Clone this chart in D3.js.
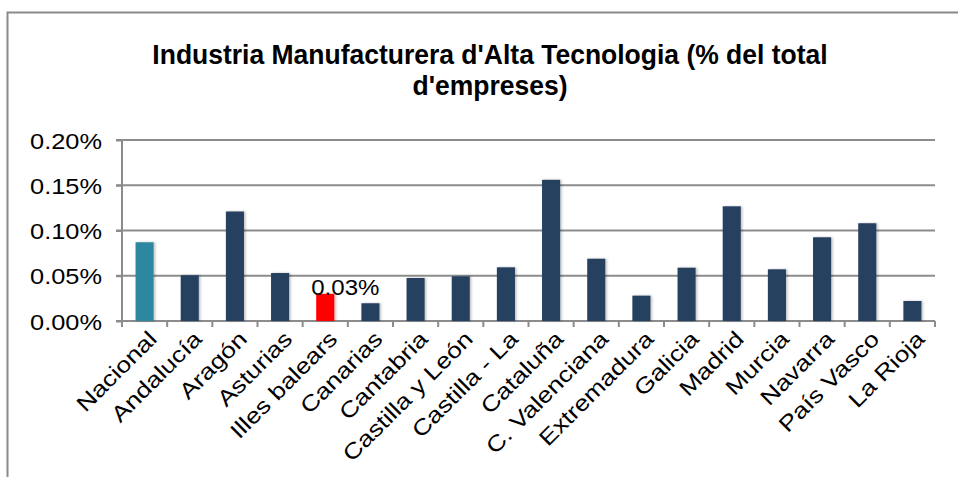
<!DOCTYPE html>
<html><head><meta charset="utf-8">
<script src="https://cdn.jsdelivr.net/npm/d3@7"></script>
<style>body{margin:0;background:#fff}svg{display:block}</style>
</head><body>
<script>
const categories = ["Nacional","Andalucía","Aragón","Asturias","Illes balears","Canarias","Cantabria","Castilla y León","Castilla - La","Cataluña","C. Valenciana","Extremadura","Galicia","Madrid","Murcia","Navarra","País Vasco","La Rioja"];
const values = [0.087,0.0505,0.121,0.053,0.030,0.0196,0.0475,0.0494,0.0593,0.156,0.0688,0.028,0.0589,0.1267,0.0571,0.0925,0.108,0.0221];
const yTicks = [0,0.05,0.10,0.15,0.20];
const titleLines = ["Industria Manufacturera d'Alta Tecnologia (% del total","d'empreses)"];
const highlight = {"Nacional":"#2e87a1","Illes balears":"#ff0000"};
const labelled = ["Illes balears"];

const W=958,H=477;
const svg=d3.select("body").append("svg").attr("width",W).attr("height",H);
const defs=svg.append("defs");
const f=defs.append("filter").attr("id","sh").attr("x","-20%").attr("y","-10%").attr("width","160%").attr("height","130%");
f.append("feDropShadow").attr("dx",1.5).attr("dy",0).attr("stdDeviation",1.2).attr("flood-color","#000").attr("flood-opacity",0.25);
const FONT="Liberation Sans, Arial, sans-serif";

// frame
svg.append("path").attr("d","M7.5,480 V12.5 H960").attr("fill","none").attr("stroke","#8a8a8a").attr("stroke-width",2);

// title
const title=svg.append("text").attr("text-anchor","middle")
  .attr("font-family",FONT).attr("font-weight","bold").attr("font-size",26.5).attr("fill","#000")
  .attr("transform","translate(490,0) scale(1.0,1.04)");
titleLines.forEach((t,i)=>title.append("tspan").attr("x",0).attr("y",(64+i*31)/1.04).text(t));

const x=d3.scaleBand().domain(categories).range([122,935]).paddingInner(0.6).paddingOuter(0.3);
const y=d3.scaleLinear().domain([0,0.2]).range([321,140]);
const step=x.step();

// gridlines
svg.append("g").selectAll("line").data(yTicks.slice(1)).join("line")
  .attr("x1",116).attr("x2",935).attr("y1",d=>y(d)).attr("y2",d=>y(d))
  .attr("stroke","#8c8c8c").attr("stroke-width",2);

// y axis
const yAxis=d3.axisLeft(y).tickValues(yTicks).tickSize(6).tickFormat(d=>d3.format(".2f")(d)+"%");
const ga=svg.append("g").attr("transform","translate(122,0)").call(yAxis);
ga.select(".domain").attr("stroke","#8c8c8c").attr("stroke-width",2).attr("d","M0,"+y(0.2)+"V"+y(0));
ga.selectAll(".tick line").attr("stroke","#8c8c8c").attr("stroke-width",2);
ga.selectAll(".tick text").attr("x",0).attr("dy",null).attr("text-anchor","end")
  .attr("font-family",FONT).attr("font-size",21.5).attr("fill","#000")
  .attr("transform","translate(-20,8) scale(1.18,1)");

// x axis line + ticks at band boundaries
const bounds=categories.map(c=>x(c)-0.3*step).concat([935]);
svg.append("line").attr("x1",116).attr("x2",935).attr("y1",y(0)).attr("y2",y(0)).attr("stroke","#8c8c8c").attr("stroke-width",2);
svg.append("g").selectAll("line").data(bounds).join("line")
  .attr("x1",d=>d).attr("x2",d=>d).attr("y1",y(0)).attr("y2",y(0)+6).attr("stroke","#8c8c8c").attr("stroke-width",2);

// bars
svg.append("g").selectAll("rect").data(categories).join("rect")
  .attr("x",c=>x(c)).attr("width",x.bandwidth())
  .attr("y",(c,i)=>y(values[i])).attr("height",(c,i)=>y(0)-y(values[i]))
  .attr("fill",c=>highlight[c]||"#253f60").attr("filter","url(#sh)");

// data label
labelled.forEach(c=>{
  const i=categories.indexOf(c);
  svg.append("text").attr("x",0).attr("y",0)
    .attr("transform",`translate(${x(c)-5},${y(values[i])+1}) scale(1.12,1)`)
    .attr("font-family",FONT).attr("font-size",21.5).attr("fill","#000")
    .text(d3.format(".2f")(values[i]*100/100)+"%");
});

// x labels
svg.append("g").selectAll("text").data(categories).join("text")
  .attr("transform",c=>`translate(${x(c)+x.bandwidth()/2+8},${y(0)+14}) rotate(-45) scale(1.2,1)`)
  .attr("text-anchor","end").attr("dy","0.35em")
  .attr("font-family",FONT).attr("font-size",22).attr("fill","#000")
  .text(c=>c);
</script>
</body></html>
